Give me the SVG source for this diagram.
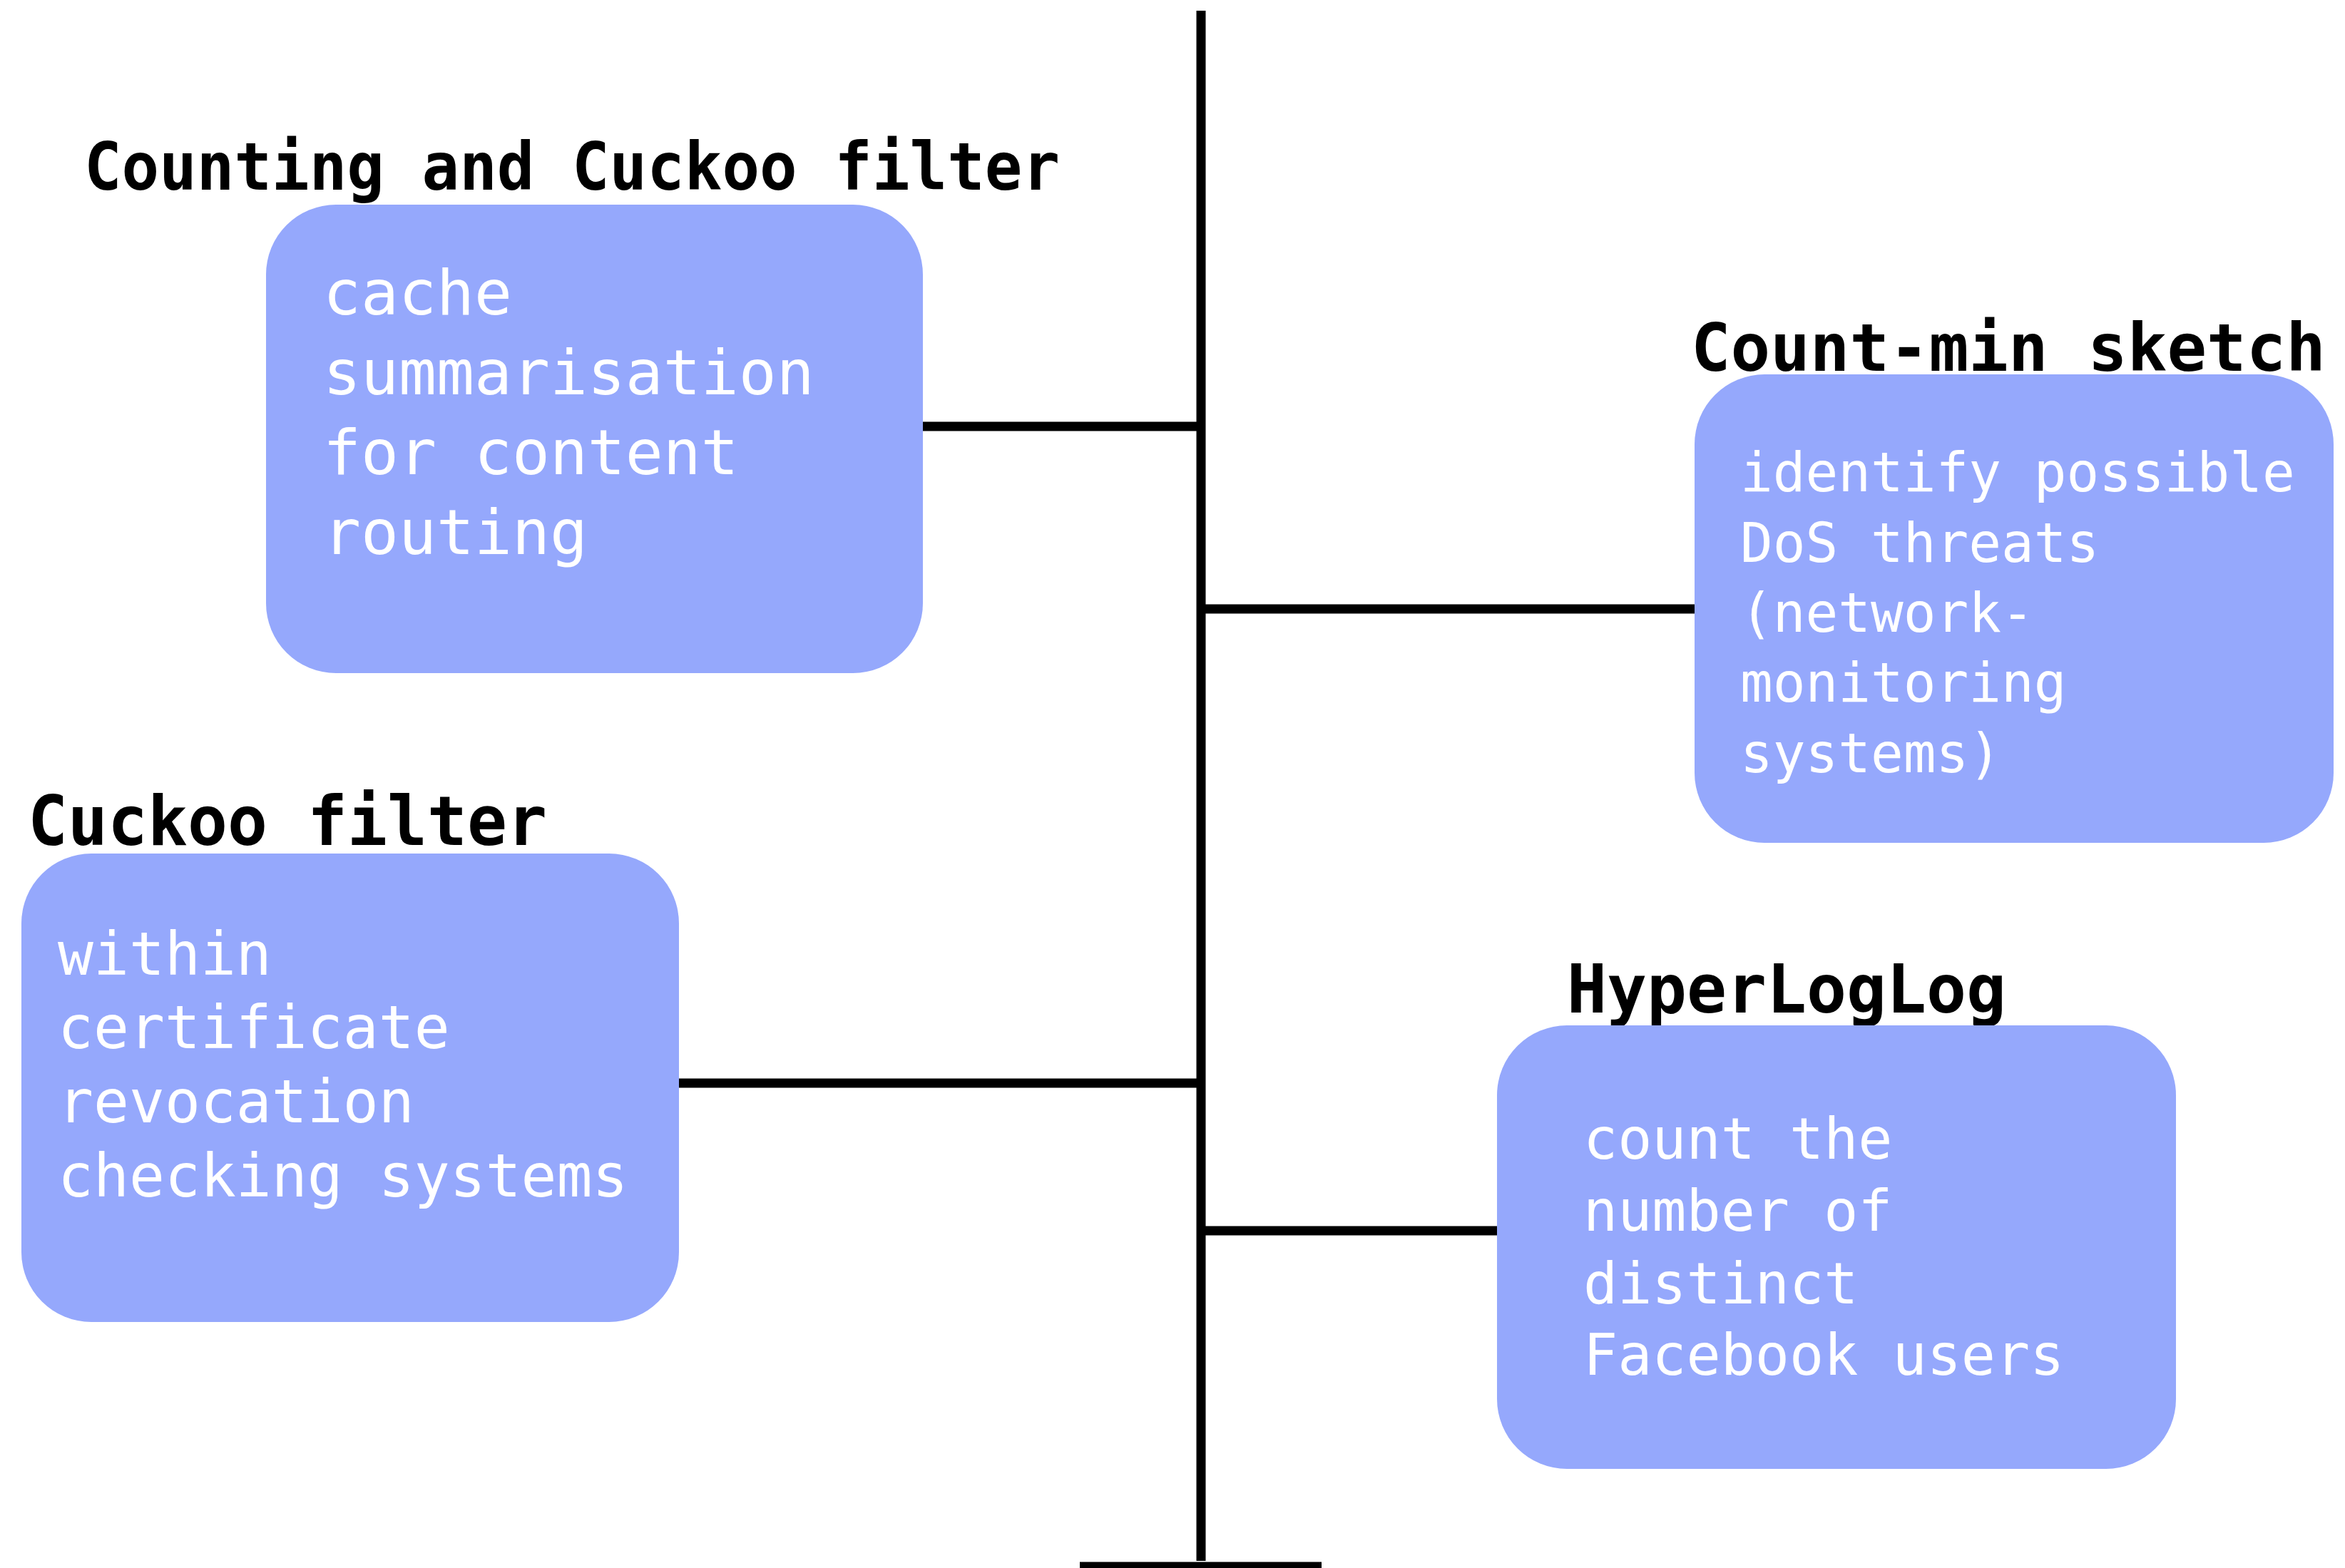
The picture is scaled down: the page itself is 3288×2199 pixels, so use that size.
<svg xmlns="http://www.w3.org/2000/svg" width="3288" height="2199" viewBox="0 0 3288 2199">
  <style>
    .box { fill: #95a8fc; }
    .title { font-family: "DejaVu Sans Mono", "Liberation Mono", monospace; font-weight: bold; fill: #000; }
    .body { font-family: "DejaVu Sans Mono", "Liberation Mono", monospace; fill: #fff; }
    .line { stroke: #000; stroke-width: 13; fill: none; }
  </style>
  <rect width="3288" height="2199" fill="#fff"/>

  <!-- timeline axis and branches -->
  <g id="connectors">
    <line class="line" x1="1684" y1="15" x2="1684" y2="2189"/>
    <line class="line" x1="1514" y1="2197" x2="1853" y2="2197"/>
    <line class="line" x1="1294" y1="598" x2="1684" y2="598"/>
    <line class="line" x1="1684" y1="854" x2="2376" y2="854"/>
    <line class="line" x1="952" y1="1519" x2="1684" y2="1519"/>
    <line class="line" x1="1684" y1="1726" x2="2099" y2="1726"/>
  </g>

  <g id="counting-cuckoo">
    <text class="title" x="118" y="266" font-size="93" textLength="1368" lengthAdjust="spacingAndGlyphs">Counting and Cuckoo filter</text>
    <rect class="box" x="373" y="287" width="921" height="657" rx="98" ry="98"/>
    <text class="body" font-size="88">
      <tspan x="453" y="441">cache</tspan>
      <tspan x="453" y="553">summarisation</tspan>
      <tspan x="453" y="665">for content</tspan>
      <tspan x="453" y="777">routing</tspan>
    </text>
  </g>

  <g id="count-min">
    <text class="title" x="2371" y="520" font-size="93" textLength="890" lengthAdjust="spacingAndGlyphs">Count-min sketch</text>
    <rect class="box" x="2376" y="525" width="896" height="657" rx="98" ry="98"/>
    <text class="body" font-size="76">
      <tspan x="2440" y="689">identify possible</tspan>
      <tspan x="2440" y="788">DoS threats</tspan>
      <tspan x="2440" y="886">(network-</tspan>
      <tspan x="2440" y="984">monitoring</tspan>
      <tspan x="2440" y="1083">systems)</tspan>
    </text>
  </g>

  <g id="cuckoo">
    <text class="title" x="39" y="1185" font-size="97" textLength="728" lengthAdjust="spacingAndGlyphs">Cuckoo filter</text>
    <rect class="box" x="30" y="1197" width="922" height="657" rx="98" ry="98"/>
    <text class="body" font-size="83">
      <tspan x="81" y="1367">within</tspan>
      <tspan x="81" y="1470">certificate</tspan>
      <tspan x="81" y="1574">revocation</tspan>
      <tspan x="81" y="1678">checking systems</tspan>
    </text>
  </g>

  <g id="hyperloglog">
    <text class="title" x="2197" y="1420" font-size="95" textLength="616" lengthAdjust="spacingAndGlyphs">HyperLogLog</text>
    <rect class="box" x="2099" y="1438" width="952" height="622" rx="98" ry="98"/>
    <text class="body" font-size="80">
      <tspan x="2220" y="1625">count the</tspan>
      <tspan x="2220" y="1726">number of</tspan>
      <tspan x="2220" y="1828">distinct</tspan>
      <tspan x="2220" y="1928">Facebook users</tspan>
    </text>
  </g>
</svg>
